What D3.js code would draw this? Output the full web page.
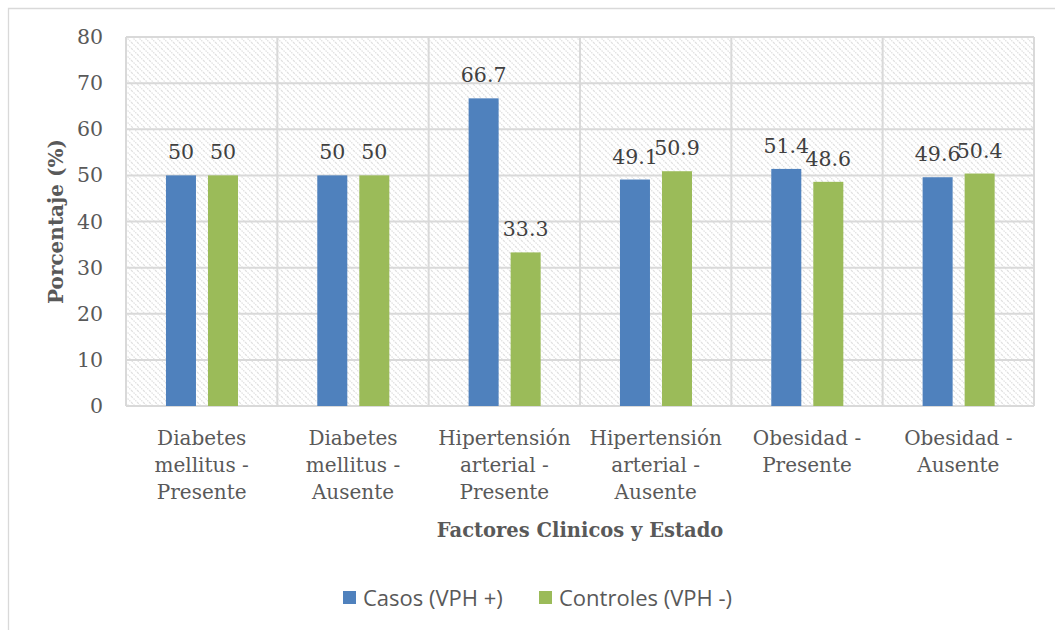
<!DOCTYPE html>
<html>
<head>
<meta charset="utf-8">
<script src="https://cdn.jsdelivr.net/npm/d3@7"></script>
<style>
  body { margin: 0; background: #fff; }
  svg { display: block; }
</style>
</head>
<body>
<script>
// data
var categories = [
    ["Diabetes", "mellitus -", "Presente"],
    ["Diabetes", "mellitus -", "Ausente"],
    ["Hipertensión", "arterial -", "Presente"],
    ["Hipertensión", "arterial -", "Ausente"],
    ["Obesidad -", "Presente"],
    ["Obesidad -", "Ausente"]
];
var seriesNames = ["Casos (VPH +)", "Controles (VPH -)"];
var casos = [50, 50, 66.7, 49.1, 51.4, 49.6];
var controles = [50, 50, 33.3, 50.9, 48.6, 50.4];
var yTicks = [0, 10, 20, 30, 40, 50, 60, 70, 80];

var colors = ["#4F81BD", "#9BBB59"];
var textColor = "#595959";
var gridColor = "#D9D9D9";
var serif = "'DejaVu Serif', serif";

var svgWidth = 1055;
var svgHeight = 630;
var margin = { top: 37, right: 21, bottom: 224, left: 126 };
var chartWidth = svgWidth - margin.left - margin.right;
var chartHeight = svgHeight - margin.top - margin.bottom;

var svg = d3.select("body")
    .append("svg")
    .attr("width", svgWidth)
    .attr("height", svgHeight);

// chart area border (left and top visible)
svg.append("path")
    .attr("d", `M8.5,${svgHeight} L8.5,8.5 L${svgWidth},8.5`)
    .attr("fill", "none")
    .attr("stroke", gridColor)
    .attr("stroke-width", 1.3);

// hatch pattern for plot area
var defs = svg.append("defs");
var pat = defs.append("pattern")
    .attr("id", "hatch")
    .attr("patternUnits", "userSpaceOnUse")
    .attr("width", 6)
    .attr("height", 6);
pat.append("path")
    .attr("d", "M-2,-2 L8,8 M-2,4 L2,8 M4,-2 L8,2")
    .attr("stroke", "#E0E0E0")
    .attr("stroke-width", 1.3)
    .attr("stroke-dasharray", "1.5,1");

var chartGroup = svg.append("g")
    .attr("transform", `translate(${margin.left},${margin.top})`);

chartGroup.append("rect")
    .attr("width", chartWidth)
    .attr("height", chartHeight)
    .attr("fill", "url(#hatch)");

var data = categories.map(function (c, i) {
    return { idx: i, label: c, values: [casos[i], controles[i]] };
});

var x0 = d3.scaleBand()
    .domain(d3.range(categories.length))
    .range([0, chartWidth])
    .padding(0);

var bw = x0.bandwidth();
var x1 = d3.scaleBand()
    .domain([0, 1])
    .range([bw * 0.264, bw * 0.74])
    .paddingInner(0.2857)
    .paddingOuter(0);

var y = d3.scaleLinear()
    .domain([0, 80])
    .range([chartHeight, 0]);

// horizontal gridlines
chartGroup.selectAll(".hgrid")
    .data(yTicks)
    .enter()
    .append("line")
    .attr("x1", 0)
    .attr("x2", chartWidth)
    .attr("y1", d => y(d))
    .attr("y2", d => y(d))
    .attr("stroke", gridColor)
    .attr("stroke-width", 2);

// vertical gridlines at category boundaries
chartGroup.selectAll(".vgrid")
    .data(d3.range(categories.length + 1))
    .enter()
    .append("line")
    .attr("x1", d => d < categories.length ? x0(d) : chartWidth)
    .attr("x2", d => d < categories.length ? x0(d) : chartWidth)
    .attr("y1", 0)
    .attr("y2", chartHeight)
    .attr("stroke", gridColor)
    .attr("stroke-width", 2);

// y axis labels
var leftAxis = d3.axisLeft(y).tickValues(yTicks).tickSize(0).tickPadding(23);
var yAxisG = chartGroup.append("g").call(leftAxis);
yAxisG.select(".domain").remove();
yAxisG.selectAll("text")
    .attr("font-family", serif)
    .attr("font-size", 20.5)
    .attr("fill", textColor);

// bars
var groups = chartGroup.selectAll(".cat")
    .data(data)
    .enter()
    .append("g")
    .attr("transform", d => `translate(${x0(d.idx)},0)`);

groups.selectAll("rect")
    .data(d => d.values.map((v, s) => ({ s: s, v: v })))
    .enter()
    .append("rect")
    .attr("x", d => x1(d.s))
    .attr("y", d => y(d.v))
    .attr("width", x1.bandwidth())
    .attr("height", d => chartHeight - y(d.v))
    .attr("fill", d => colors[d.s]);

// value labels
groups.selectAll(".val")
    .data(d => d.values.map((v, s) => ({ s: s, v: v })))
    .enter()
    .append("text")
    .attr("x", d => x1(d.s) + x1.bandwidth() / 2)
    .attr("y", d => y(d.v) - 16)
    .attr("text-anchor", "middle")
    .attr("font-family", serif)
    .attr("font-size", 20.5)
    .attr("fill", "#404040")
    .text(d => d.v);

// category labels
var catLabels = groups.append("text")
    .attr("text-anchor", "middle")
    .attr("font-family", serif)
    .attr("font-size", 20)
    .attr("fill", textColor);
catLabels.selectAll("tspan")
    .data(d => d.label)
    .enter()
    .append("tspan")
    .attr("x", bw / 2)
    .attr("y", (d, i) => chartHeight + 39 + i * 27)
    .text(d => d);

// axis titles
chartGroup.append("text")
    .attr("transform", `translate(${63 - margin.left}, ${chartHeight / 2}) rotate(-90)`)
    .attr("text-anchor", "middle")
    .attr("font-family", serif)
    .attr("font-weight", "bold")
    .attr("font-size", 20)
    .attr("fill", textColor)
    .text("Porcentaje (%)");

chartGroup.append("text")
    .attr("x", chartWidth / 2)
    .attr("y", chartHeight + 131)
    .attr("text-anchor", "middle")
    .attr("font-family", serif)
    .attr("font-weight", "bold")
    .attr("font-size", 19.5)
    .attr("fill", textColor)
    .text("Factores Clinicos y Estado");

// legend
var legendX = [343, 539];
var legend = svg.selectAll(".legend")
    .data(seriesNames)
    .enter()
    .append("g")
    .attr("transform", (d, i) => `translate(${legendX[i]}, 591)`);

legend.append("rect")
    .attr("width", 13)
    .attr("height", 13)
    .attr("fill", (d, i) => colors[i]);

legend.append("text")
    .attr("x", 20)
    .attr("y", 15)
    .attr("font-family", "'Open Sans', sans-serif")
    .attr("font-size", 22)
    .attr("fill", textColor)
    .text(d => d);
</script>
</body>
</html>
